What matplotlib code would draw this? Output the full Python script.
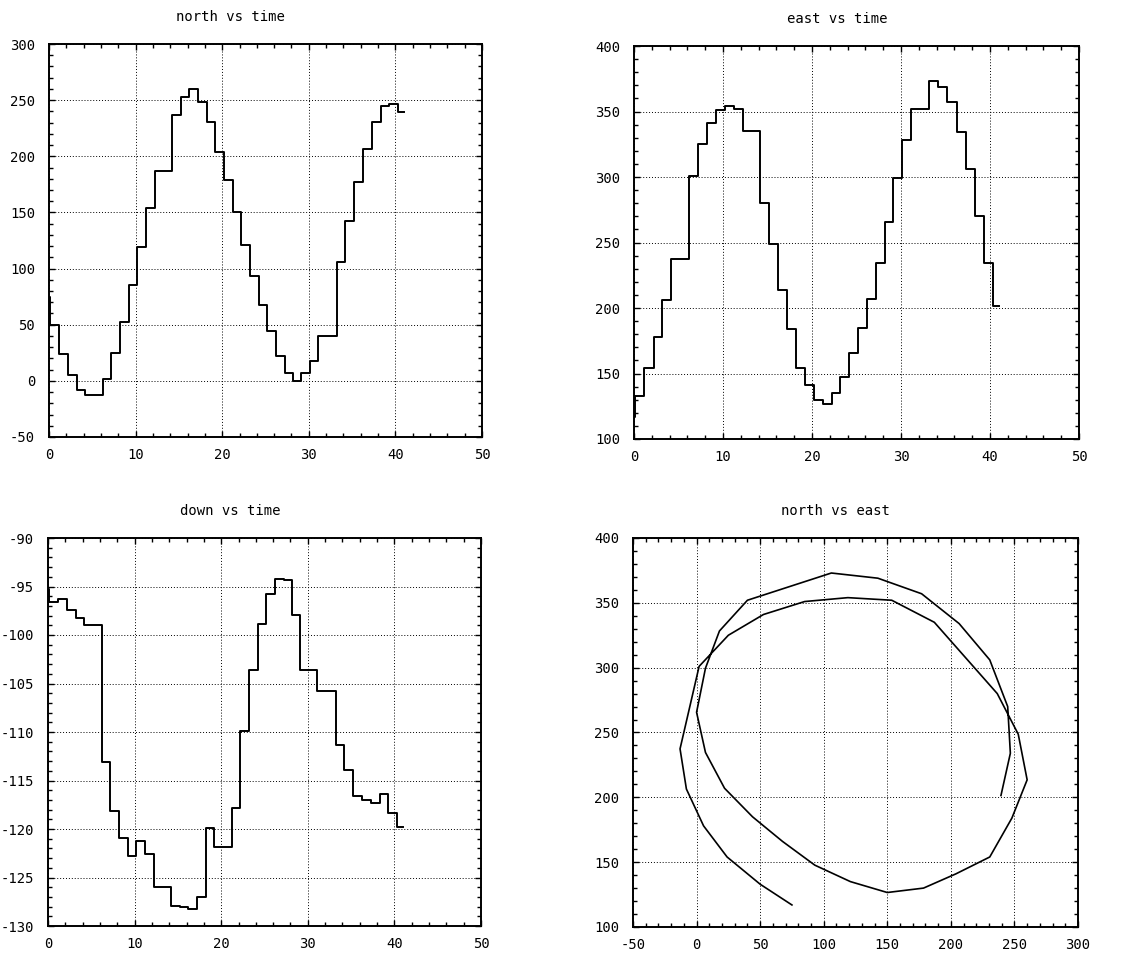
import matplotlib
matplotlib.use("Agg")
import matplotlib.pyplot as plt
from matplotlib.ticker import MultipleLocator

# sample times (s); last entry is the end of the final step
time = [0.0, 0.1, 1.15, 2.2, 3.2, 4.2, 6.2, 7.2, 8.2, 9.2, 10.2, 11.2, 12.2,
        14.2, 15.2, 16.2, 17.2, 18.2, 19.2, 20.2, 21.2, 22.2, 23.2, 24.2,
        25.2, 26.2, 27.2, 28.2, 29.1, 30.1, 31.1, 33.2, 34.2, 35.2, 36.3,
        37.3, 38.3, 39.3, 40.3]
t_end = 41.0

north = [75, 50, 24, 5.5, -8, -13, 2, 25, 52.6, 85, 119, 153.5, 187,
         236.5, 253, 260, 248, 230.6, 204, 178.5, 150, 121, 93, 67.6,
         44, 22, 7, 0, 7, 18, 40, 106, 142.6, 177, 206.5,
         230.6, 244.7, 246.8, 239.4]

east = [117, 133, 154, 178, 206.4, 237.4, 301, 325, 341, 351, 354, 352, 335,
        280, 248.7, 213.5, 184, 154, 141, 130, 126.6, 135, 147.7, 166,
        185, 207, 234.6, 265.6, 299.6, 328.3, 352, 373, 369, 357, 334,
        306, 270, 234, 201.4]

down = [-95.3, -96.6, -96.3, -97.4, -98.2, -99.0, -113.1, -118.1, -120.9,
        -122.8, -121.2, -122.6, -126.0, -127.9, -128.0, -128.2, -127.0,
        -119.9, -121.9, -121.9, -117.8, -109.9, -103.6, -98.9, -95.8, -94.2,
        -94.3, -97.9, -103.6, -103.6, -105.8, -111.3, -113.9, -116.6,
        -117.0, -117.3, -116.4, -118.3, -119.8]

titles = ["north vs time", "east vs time", "down vs time", "north vs east"]

plt.rcParams['font.family'] = ['DejaVu Sans Mono']
plt.rcParams['axes.unicode_minus'] = False

fig = plt.figure(figsize=(11.3, 9.57), dpi=100)
W, H = 1130, 957

def make_ax(l, t, r, b):
    return fig.add_axes([l / W, 1 - b / H, (r - l) / W, (b - t) / H])

ax1 = make_ax(49, 44, 482, 437)
ax2 = make_ax(634, 46, 1079, 439)
ax3 = make_ax(48, 538, 481, 926)
ax4 = make_ax(633, 538, 1078, 927)

tt = time + [t_end]
def stepped(ax, vals):
    ax.plot(tt, vals + [vals[-1]], drawstyle='steps-post', color='black', lw=1.4)

stepped(ax1, north)
stepped(ax2, east)
stepped(ax3, down)
ax4.plot(north, east, color='black', lw=1.2)

ax1.set_xlim(0, 50); ax1.set_ylim(-50, 300)
ax2.set_xlim(0, 50); ax2.set_ylim(100, 400)
ax3.set_xlim(0, 50); ax3.set_ylim(-130, -90)
ax4.set_xlim(-50, 300); ax4.set_ylim(100, 400)

cfg = [(ax1, 10, 50, 2, 10), (ax2, 10, 50, 2, 10),
       (ax3, 10, 5, 2, 1), (ax4, 50, 50, 10, 10)]
for ax, xmaj, ymaj, xmin, ymin in cfg:
    ax.xaxis.set_major_locator(MultipleLocator(xmaj))
    ax.yaxis.set_major_locator(MultipleLocator(ymaj))
    ax.xaxis.set_minor_locator(MultipleLocator(xmin))
    ax.yaxis.set_minor_locator(MultipleLocator(ymin))
    ax.grid(True, which='major', color='black', linestyle=(0, (1, 2)), lw=0.7)
    ax.tick_params(which='both', direction='in', top=True, right=True,
                   labelsize=10, width=1.0)
    ax.tick_params(which='major', length=4)
    ax.tick_params(which='minor', length=3)
    ax.tick_params(axis='x', which='major', pad=8)
    ax.tick_params(axis='y', which='major', pad=10)
    for s in ax.spines.values():
        s.set_linewidth(1.4)

titles_pos = [(ax1, 0.42), (ax2, 0.456), (ax3, 0.42), (ax4, 0.454)]
for (ax, tx), ttl in zip(titles_pos, titles):
    h = ax.get_position().height * H
    ax.text(tx, 1.0 + 27 / h, ttl, transform=ax.transAxes, ha='center',
            va='center', fontsize=10)

fig.savefig("out.png", dpi=100)
